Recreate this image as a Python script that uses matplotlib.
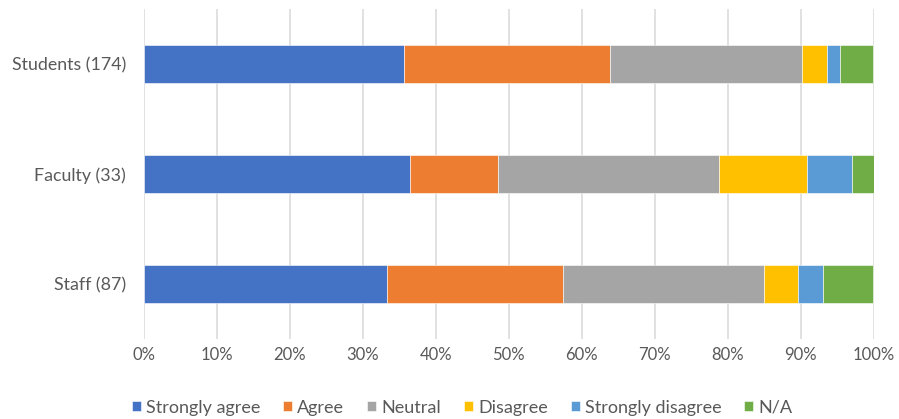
import matplotlib.pyplot as plt
import numpy as np

plt.rcParams['font.family'] = ['Lato', 'DejaVu Sans']

groups = ["Students (174)", "Faculty (33)", "Staff (87)"]
responses = ["Strongly agree", "Agree", "Neutral", "Disagree", "Strongly disagree", "N/A"]
colors = ["#4472C4", "#ED7D31", "#A5A5A5", "#FFC000", "#5B9BD5", "#70AD47"]

# percent of respondents per group
strongly_agree = [35.6, 36.4, 33.3]
agree = [28.2, 12.1, 24.1]
neutral = [26.4, 30.3, 27.6]
disagree = [3.4, 12.1, 4.6]
strongly_disagree = [1.7, 6.1, 3.4]
na = [4.6, 3.0, 6.9]

series = [strongly_agree, agree, neutral, disagree, strongly_disagree, na]

fig = plt.figure(figsize=(8.99, 4.19), dpi=100)
ax = fig.add_axes([0.160, 0.191, 0.812, 0.788])

y = np.arange(len(groups))
left = np.zeros(len(groups))
for name, vals, c in zip(responses, series, colors):
    ax.barh(y, vals, left=left, height=0.35, color=c, label=name,
            edgecolor="white", linewidth=0.4, zorder=3)
    left += np.array(vals)

ax.set_xlim(0, 100)
ax.set_ylim(len(groups) - 0.5, -0.5)
ax.set_yticks(y)
ax.set_yticklabels(groups, fontsize=12.8)
ax.set_xticks(np.arange(0, 101, 10))
ax.set_xticklabels([f"{v}%" for v in range(0, 101, 10)], fontsize=12)
ax.tick_params(axis="both", length=0, colors="#595959")
ax.tick_params(axis="x", pad=6)
ax.tick_params(axis="y", pad=13)
ax.grid(axis="x", color="#D9D9D9", linewidth=1.1, zorder=0)
for s in ax.spines.values():
    s.set_visible(False)

leg = fig.legend(loc="center", bbox_to_anchor=(0.514, 0.027), ncol=6, frameon=False,
                 fontsize=13, handlelength=0.5, handleheight=0.5,
                 handletextpad=0.3, columnspacing=1.25)
for t in leg.get_texts():
    t.set_color("#595959")

fig.savefig("out.png", dpi=100)
